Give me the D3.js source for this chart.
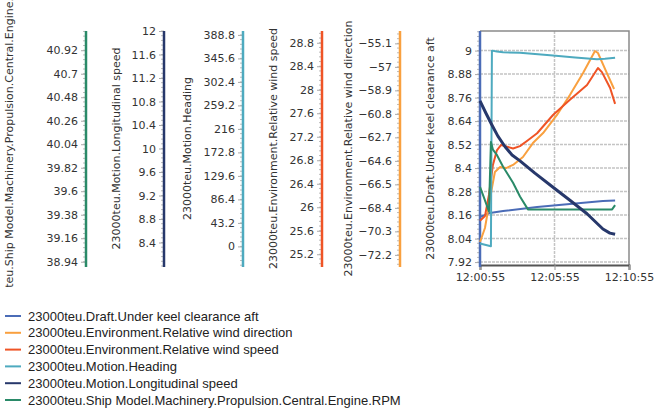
<!DOCTYPE html>
<html>
<head>
<meta charset="utf-8">
<script src="https://cdn.jsdelivr.net/npm/d3@7"></script>
<style>
  body { margin: 0; background: #fff; }
  svg { display: block; font-family: "DejaVu Sans", sans-serif; }
</style>
</head>
<body>
<div id="chart"></div>
<script>
// time axis
const startTime = "12:00:55";
const timeTicks = ["12:00:55", "12:05:55", "12:10:55"];

// series: seconds after 12:00:55 and values
const draftSec = [0, 40, 93, 230, 362, 495, 544];
const draftVal = [8.150, 8.171, 8.181, 8.201, 8.217, 8.232, 8.234];

const windDirSec = [0, 20, 36, 48, 60, 81, 105, 133, 173, 213, 254, 310, 362, 415, 463, 475, 511, 540];
const windDirVal = [-71.16, -70.03, -68.17, -66.79, -65.50, -65.10, -65.18, -64.93, -64.29, -63.16, -62.35, -60.89, -59.27, -57.50, -55.72, -55.88, -57.50, -58.79];

const windSpeedSec = [0, 20, 36, 52, 68, 85, 109, 133, 161, 193, 230, 294, 362, 431, 475, 491, 524, 544];
const windSpeedVal = [25.77, 25.85, 26.21, 26.72, 26.97, 27.06, 27.03, 27.00, 27.04, 27.14, 27.26, 27.57, 27.83, 28.08, 28.37, 28.30, 28.03, 27.76];

const headingSec = [0, 24, 44, 48, 68, 93, 161, 294, 383, 471, 503, 544];
const headingVal = [5.4, 2.6, 0.2, 359.9, 358.3, 356.8, 355.9, 351.0, 347.3, 344.0, 344.9, 346.9];

const speedSec = [0, 24, 48, 72, 101, 129, 161, 221, 294, 362, 431, 495, 523, 544];
const speedVal = [10.81, 10.60, 10.40, 10.21, 10.03, 9.89, 9.79, 9.58, 9.34, 9.12, 8.89, 8.63, 8.56, 8.54];

const rpmSec = [0, 16, 36, 44, 52, 68, 93, 133, 161, 193, 282, 403, 532, 544];
const rpmVal = [39.64, 39.54, 39.41, 40.06, 39.99, 39.94, 39.83, 39.68, 39.55, 39.43, 39.43, 39.43, 39.43, 39.47];

// axes: ticks and domains
const rpmTicks = [38.94, 39.16, 39.38, 39.6, 39.82, 40.04, 40.26, 40.48, 40.7, 40.92];
const speedTicks = [8.4, 8.8, 9.2, 9.6, 10, 10.4, 10.8, 11.2, 11.6, 12];
const headingTicks = [0, 43.2, 86.4, 129.6, 172.8, 216, 259.2, 302.4, 345.6, 388.8];
const windSpeedTicks = [25.2, 25.6, 26, 26.4, 26.8, 27.2, 27.6, 28, 28.4, 28.8];
const windDirTicks = [-72.2, -70.3, -68.4, -66.5, -64.6, -62.7, -60.8, -58.9, -57, -55.1];
const draftTicks = [7.92, 8.04, 8.16, 8.28, 8.4, 8.52, 8.64, 8.76, 8.88, 9];

const rpmDomain = [38.9, 41.1];
const speedDomain = [8, 12];
const headingDomain = [-36, 396];
const windSpeedDomain = [25, 29];
const windDirDomain = [-73.1, -54.1];
const draftDomain = [7.9, 9.1];

const seriesNames = [
  "23000teu.Draft.Under keel clearance aft",
  "23000teu.Environment.Relative wind direction",
  "23000teu.Environment.Relative wind speed",
  "23000teu.Motion.Heading",
  "23000teu.Motion.Longitudinal speed",
  "23000teu.Ship Model.Machinery.Propulsion.Central.Engine.RPM",
];

const colors = {
  draft: "#4b6cb7",
  windDir: "#f9a03f",
  windSpeed: "#ef5426",
  heading: "#4eaabf",
  speed: "#27386b",
  rpm: "#2a8a68",
};

const width = 656, height = 410;
const plot = { left: 480, right: 629, top: 31, bottom: 266 };

const svg = d3.select("#chart").append("svg")
  .attr("width", width).attr("height", height);

const parseTime = d3.timeParse("%H:%M:%S");
const t0 = parseTime(startTime);
const toDate = (s) => new Date(t0.getTime() + s * 1000);

const x = d3.scaleTime()
  .domain([parseTime(timeTicks[0]), parseTime(timeTicks[timeTicks.length - 1])])
  .range([plot.left, plot.right]);

// axis list, left to right
const axes = [
  { key: "rpm", ticks: rpmTicks, domain: rpmDomain, title: seriesNames[5], x: 86, titleX: 13 },
  { key: "speed", ticks: speedTicks, domain: speedDomain, title: seriesNames[4], x: 164, titleX: 120 },
  { key: "heading", ticks: headingTicks, domain: headingDomain, title: seriesNames[3], x: 243, titleX: 191 },
  { key: "windSpeed", ticks: windSpeedTicks, domain: windSpeedDomain, title: seriesNames[2], x: 322, titleX: 277 },
  { key: "windDir", ticks: windDirTicks, domain: windDirDomain, title: seriesNames[1], x: 400, titleX: 352 },
  { key: "draft", ticks: draftTicks, domain: draftDomain, title: seriesNames[0], x: plot.left, titleX: 434 },
];

const scales = {};
axes.forEach((a) => {
  scales[a.key] = d3.scaleLinear().domain(a.domain).range([plot.bottom, plot.top]);
});

// grid
const grid = svg.append("g").attr("stroke", "#c4c4c4").attr("stroke-width", 1.5)
  .attr("stroke-dasharray", "3,1");
grid.selectAll(".hg").data(draftTicks).enter().append("line")
  .attr("x1", plot.left).attr("x2", plot.right)
  .attr("y1", (d) => scales.draft(d)).attr("y2", (d) => scales.draft(d));
grid.selectAll(".vg").data(timeTicks.slice(1, -1)).enter().append("line")
  .attr("x1", (d) => x(parseTime(d))).attr("x2", (d) => x(parseTime(d)))
  .attr("y1", plot.top).attr("y2", plot.bottom);

// plot frame
svg.append("path")
  .attr("d", `M${plot.left},${plot.top}H${plot.right}V${plot.bottom}`)
  .attr("fill", "none").attr("stroke", "#8a8a8a").attr("stroke-width", 1.5);

// x axis
const xAxis = svg.append("g")
  .attr("transform", `translate(0,${plot.bottom - 1})`)
  .call(d3.axisBottom(x)
    .tickValues(timeTicks.map(parseTime))
    .tickFormat(d3.timeFormat("%H:%M:%S"))
    .tickSize(5).tickPadding(3));
xAxis.select(".domain").attr("stroke", "#555").attr("stroke-width", 2);
xAxis.selectAll(".tick line").attr("stroke", "#999");
xAxis.selectAll("text").attr("font-size", 11).attr("fill", "#333")
  .attr("font-family", "DejaVu Sans, sans-serif");

// value axes (the axis titles are cut off at the top and bottom like the original)
svg.append("clipPath").attr("id", "axClip")
  .append("rect").attr("x", 0).attr("y", 0).attr("width", width).attr("height", 287);

const axisLayer = svg.append("g").attr("clip-path", "url(#axClip)");

axes.forEach((a) => {
  const y = scales[a.key];
  const step = (a.ticks[1] - a.ticks[0]) / 5;
  const minor = [];
  for (let v = a.ticks[0] - step * 10; v <= a.domain[1] + 1e-9; v += step) {
    if (v >= a.domain[0] - 1e-9) minor.push(v);
  }
  const g = axisLayer.append("g").attr("transform", `translate(${a.x},0)`);

  g.append("g").selectAll("line").data(minor).enter().append("line")
    .attr("x1", -3).attr("x2", 0)
    .attr("y1", (d) => y(d)).attr("y2", (d) => y(d))
    .attr("stroke", "#bbb").attr("stroke-width", 1);

  const ax = g.append("g").call(d3.axisLeft(y).tickValues(a.ticks)
    .tickSize(5).tickPadding(3).tickFormat((d) => d3.format("~f")(+d.toFixed(2))));
  ax.select(".domain").remove();
  ax.selectAll(".tick line").attr("stroke", "#aaa");
  ax.selectAll("text").attr("font-size", 11).attr("fill", "#333")
    .attr("font-family", "DejaVu Sans, sans-serif");

  g.append("line")
    .attr("x1", 0).attr("x2", 0)
    .attr("y1", plot.top).attr("y2", plot.bottom + 1)
    .attr("stroke", colors[a.key]).attr("stroke-width", 2.5);

  axisLayer.append("text")
    .attr("transform", `translate(${a.titleX},${(plot.top + plot.bottom) / 2}) rotate(-90)`)
    .attr("text-anchor", "middle")
    .attr("font-size", 11).attr("fill", "#333")
    .text(a.title);
});

// series lines
const series = [
  { key: "draft", sec: draftSec, val: draftVal, w: 2 },
  { key: "windDir", sec: windDirSec, val: windDirVal, w: 2 },
  { key: "windSpeed", sec: windSpeedSec, val: windSpeedVal, w: 2 },
  { key: "heading", sec: headingSec, val: headingVal, w: 2 },
  { key: "rpm", sec: rpmSec, val: rpmVal, w: 2 },
  { key: "speed", sec: speedSec, val: speedVal, w: 3 },
];

series.forEach((s) => {
  const pts = s.sec.map((t, i) => [toDate(t), s.val[i]]);
  const line = d3.line()
    .x((d) => x(d[0]))
    .y((d) => scales[s.key](d[1]));
  svg.append("path")
    .datum(pts)
    .attr("d", line)
    .attr("fill", "none")
    .attr("stroke", colors[s.key])
    .attr("stroke-width", s.w)
    .attr("stroke-linejoin", "round");
});

// legend
const legendKeys = ["draft", "windDir", "windSpeed", "heading", "speed", "rpm"];
const legend = svg.append("g").attr("transform", "translate(5,316)");
const item = legend.selectAll("g").data(legendKeys).enter().append("g")
  .attr("transform", (d, i) => `translate(0,${i * 16.8})`);
item.append("line")
  .attr("x1", 0).attr("x2", 16)
  .attr("stroke", (d) => colors[d]).attr("stroke-width", 2);
item.append("text")
  .attr("x", 23).attr("dy", "0.35em")
  .attr("font-family", "Liberation Sans, Arial, sans-serif")
  .attr("font-size", 13).attr("fill", "#222")
  .text((d, i) => seriesNames[i]);
</script>
</body>
</html>
